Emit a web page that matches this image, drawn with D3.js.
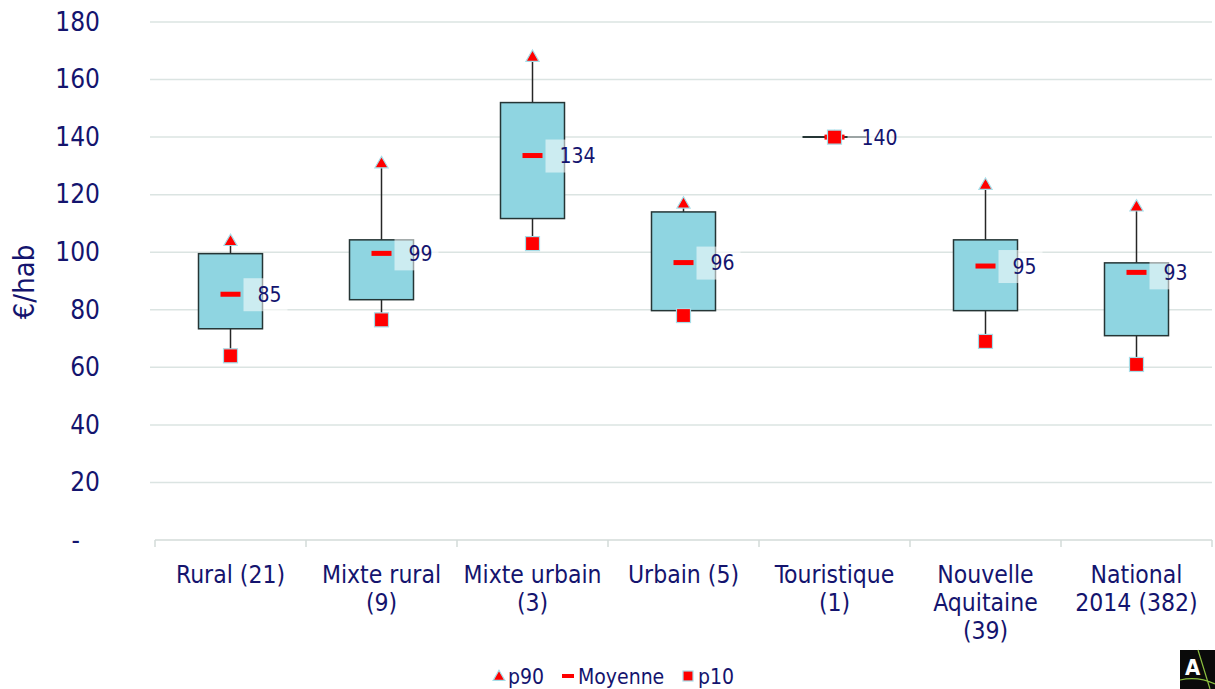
<html>
<head>
<meta charset="utf-8">
<script src="https://cdn.jsdelivr.net/npm/d3@7"></script>
<style>
  body { margin: 0; background: #fff; }
  text { font-family: 'DejaVu Sans Condensed', 'Open Sans', sans-serif; fill: #14146e; }
</style>
</head>
<body>
<div id="chart"></div>
<script>
  // values (€/hab)
  var categories = ['Rural (21)', 'Mixte rural|(9)', 'Mixte urbain|(3)', 'Urbain (5)',
                    'Touristique|(1)', 'Nouvelle|Aquitaine|(39)', 'National|2014 (382)'];
  var p10      = [64, 76.5, 103, 78, 140, 69, 61];
  var boxLow   = [73.4, 83.5, 111.7, 79.7, 140, 79.7, 71];
  var boxHigh  = [99.5, 104.3, 152, 114, 140, 104.3, 96.3];
  var moyenne  = [85.4, 99.6, 133.6, 96.4, 140, 95.2, 93];
  var p90      = [104, 131, 168, 117, 140, 123.5, 116];
  var labels   = ['85', '99', '134', '96', '140', '95', '93'];
  var yTicks   = [0, 20, 40, 60, 80, 100, 120, 140, 160, 180];

  var width = 1215, height = 689;
  var svg = d3.select('#chart').append('svg')
      .attr('width', width).attr('height', height);

  var x = d3.scaleBand().domain(categories).range([155, 1212]);
  var y = d3.scaleLinear().domain([0, 180]).range([540, 22]);

  // gridlines
  svg.selectAll('.grid')
    .data(yTicks.filter(function (d) { return d > 0; }))
    .enter().append('line')
      .attr('x1', 150).attr('x2', 1212)
      .attr('y1', function (d) { return y(d); })
      .attr('y2', function (d) { return y(d); })
      .attr('stroke', '#dbe4e2').attr('stroke-width', 1.5);

  // y axis labels
  var yAxis = svg.append('g')
      .attr('transform', 'translate(100,0)')
      .call(d3.axisLeft(y).tickValues(yTicks).tickSize(0).tickPadding(0)
        .tickFormat(function (d) { return d === 0 ? '-' : d; }));
  yAxis.select('.domain').remove();
  yAxis.selectAll('text').style('font-size', '26px').attr('fill', '#14146e');
  yAxis.selectAll('text').filter(function (d) { return d === 0; }).attr('dx', -20);

  svg.append('text')
    .attr('transform', 'translate(34,282) rotate(-90)')
    .attr('text-anchor', 'middle')
    .style('font-size', '29px')
    .text('€/hab');

  // x axis
  var xAxis = svg.append('g')
      .attr('transform', 'translate(0,540)');
  xAxis.append('line').attr('x1', 155).attr('x2', 1212)
    .attr('stroke', '#d3dbd9').attr('stroke-width', 1.5);
  var bounds = categories.map(function (c) { return x(c); }).concat([1212]);
  xAxis.selectAll('.tk').data(bounds).enter().append('line')
    .attr('x1', function (d) { return d; }).attr('x2', function (d) { return d; })
    .attr('y1', 0).attr('y2', 7)
    .attr('stroke', '#d3dbd9').attr('stroke-width', 1.5);

  categories.forEach(function (c) {
    var t = svg.append('text')
      .attr('x', x(c) + x.bandwidth() / 2).attr('y', 583)
      .attr('text-anchor', 'middle')
      .style('font-size', '24.5px');
    c.split('|').forEach(function (line, i) {
      t.append('tspan').attr('x', x(c) + x.bandwidth() / 2)
        .attr('dy', i === 0 ? 0 : 28).text(line);
    });
  });

  var data = categories.map(function (c, i) {
    return { cat: c, p10: p10[i], lo: boxLow[i], hi: boxHigh[i], mean: moyenne[i], p90: p90[i], label: labels[i] };
  });
  var cx = function (d) { return x(d.cat) + x.bandwidth() / 2; };
  var boxW = 64;

  // high-low lines
  svg.selectAll('.whisker').data(data).enter().append('line')
    .attr('x1', cx).attr('x2', cx)
    .attr('y1', function (d) { return y(d.p10); })
    .attr('y2', function (d) { return y(d.p90); })
    .attr('stroke', '#262626').attr('stroke-width', 1.5);

  // boxes (flat boxes drawn as a line)
  svg.selectAll('.box').data(data.filter(function (d) { return d.hi > d.lo; })).enter().append('rect')
    .attr('x', function (d) { return cx(d) - boxW / 2; })
    .attr('y', function (d) { return y(d.hi); })
    .attr('width', boxW)
    .attr('height', function (d) { return y(d.lo) - y(d.hi); })
    .attr('fill', '#8fd5e1').attr('stroke', '#253535').attr('stroke-width', 1.5);
  svg.selectAll('.flat').data(data.filter(function (d) { return d.hi <= d.lo; })).enter().append('line')
    .attr('x1', function (d) { return cx(d) - boxW / 2; })
    .attr('x2', function (d) { return cx(d) + boxW / 2; })
    .attr('y1', function (d) { return y(d.hi); })
    .attr('y2', function (d) { return y(d.hi); })
    .attr('stroke', '#253535').attr('stroke-width', 2);

  // mean dash
  svg.selectAll('.mean').data(data).enter().append('rect')
    .attr('x', function (d) { return cx(d) - 10; })
    .attr('y', function (d) { return y(d.mean) - 2.5; })
    .attr('width', 20).attr('height', 5)
    .attr('fill', '#ff0000');

  // p90 triangles
  var tri = d3.symbol().type(d3.symbolTriangle).size(75);
  svg.selectAll('.p90').data(data).enter().append('path')
    .attr('d', tri)
    .attr('transform', function (d) { return 'translate(' + cx(d) + ',' + (y(d.p90) + 1) + ')'; })
    .attr('fill', '#ff0000').attr('stroke', '#a6dde8').attr('stroke-width', 1.2);

  // p10 squares
  svg.selectAll('.p10').data(data).enter().append('rect')
    .attr('x', function (d) { return cx(d) - 7; })
    .attr('y', function (d) { return y(d.p10) - 7; })
    .attr('width', 14).attr('height', 14)
    .attr('fill', '#ff0000').attr('stroke', '#a6dde8').attr('stroke-width', 1.2);

  // mean labels
  svg.selectAll('.lblbg').data(data).enter().append('rect')
    .attr('x', function (d) { return cx(d) + 13; })
    .attr('y', function (d) { return y(d.mean) - 16; })
    .attr('width', 44).attr('height', 33)
    .attr('fill', '#ffffff').attr('fill-opacity', 0.55);
  svg.selectAll('.lbl').data(data).enter().append('text')
    .attr('x', function (d) { return cx(d) + 27; })
    .attr('y', function (d) { return y(d.mean); })
    .attr('dy', '0.36em')
    .style('font-size', '21px')
    .text(function (d) { return d.label; });

  // legend
  var legend = svg.append('g').attr('transform', 'translate(0,676)');
  legend.append('path').attr('d', d3.symbol().type(d3.symbolTriangle).size(60))
    .attr('transform', 'translate(499,1)')
    .attr('fill', '#ff0000').attr('stroke', '#a6dde8').attr('stroke-width', 1.2);
  legend.append('text').attr('x', 508).attr('dy', '0.36em').style('font-size', '21px').text('p90');
  legend.append('rect').attr('x', 562).attr('y', -2).attr('width', 12).attr('height', 4).attr('fill', '#ff0000');
  legend.append('text').attr('x', 578).attr('dy', '0.36em').style('font-size', '21px').text('Moyenne');
  legend.append('rect').attr('x', 683).attr('y', -5).attr('width', 10).attr('height', 10)
    .attr('fill', '#ff0000').attr('stroke', '#a6dde8').attr('stroke-width', 1.2);
  legend.append('text').attr('x', 698).attr('dy', '0.36em').style('font-size', '21px').text('p10');

  // small logo bottom right
  var logo = svg.append('g').attr('transform', 'translate(1180,650)');
  logo.append('rect').attr('width', 35).attr('height', 39).attr('fill', '#0a0a0a');
  logo.append('path').attr('d', 'M18,0 L30,39 M0,30 Q18,26 35,34').attr('stroke', '#8cbf3f').attr('fill', 'none').attr('stroke-width', 1.2);
  logo.append('text').attr('x', 5).attr('y', 25).style('font-size', '22px').style('font-weight', 'bold')
    .style('fill', '#ffffff').text('A');
</script>
</body>
</html>
